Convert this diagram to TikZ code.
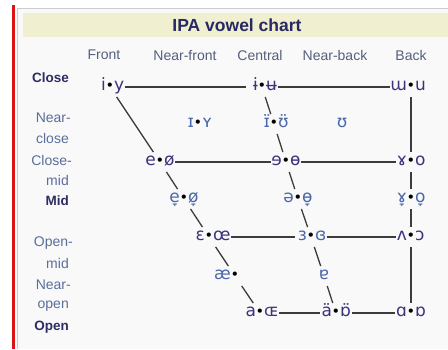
\documentclass[tikz,border=0pt]{standalone}
\usepackage{fontspec}
\setmainfont{Liberation Sans}
\newfontfamily\ipafont{DejaVu Sans}
\definecolor{panel}{RGB}{249,249,249}
\definecolor{titlebar}{RGB}{240,240,208}
\definecolor{titletext}{RGB}{40,40,100}
\definecolor{headc}{RGB}{85,95,125}
\definecolor{rowdark}{RGB}{45,45,100}
\definecolor{rowlight}{RGB}{90,110,155}
\definecolor{vdark}{RGB}{58,52,125}
\definecolor{vlight}{RGB}{75,105,170}
\definecolor{linec}{RGB}{60,60,60}
\definecolor{borderc}{RGB}{205,205,205}
\definecolor{redc}{RGB}{220,20,20}
\newlength\vwA
\newlength\vwB
\newcommand\vdot{{\fontsize{14.5}{12}\selectfont\color{black}\kern-0.2pt•\kern-0.2pt}}
\newcommand\vp[2]{\settowidth\vwA{#1}\settowidth\vwB{#2}\ifdim\vwB>\vwA\vwA=\vwB\fi\makebox[\vwA][r]{#1}\vdot\makebox[\vwA][l]{#2}}
\begin{document}
\begin{tikzpicture}[x=1pt,y=-1pt,
  v/.style={font=\ipafont\fontsize{17}{17}\selectfont, text=vdark, inner xsep=0.5pt, inner ysep=1pt, text height=12.5pt, text depth=5pt},
  vl/.style={v, text=vlight},
  colhead/.style={font=\fontsize{14}{16}\selectfont, text=headc, inner sep=0pt},
  rowb/.style={font=\fontsize{13.5}{16}\selectfont\bfseries, text=rowdark, inner sep=0pt, anchor=east},
  rowl/.style={font=\fontsize{14}{16}\selectfont, text=rowlight, inner sep=0pt, anchor=east},
  ln/.style={draw=linec, line width=1.3pt}]
\useasboundingbox (0,0) rectangle (448,349);
\fill[white] (0,0) rectangle (448,349);
\fill[panel] (17,8) rectangle (448,349);
\draw[borderc, line width=0.8pt] (17,349) -- (17,8) -- (448,8);
\fill[titlebar] (23,13) rectangle (448,37);
\fill[redc] (12,5) rectangle (14.5,349);
\node[font=\fontsize{17.5}{20}\selectfont\bfseries, text=titletext] (title) at (237,25) {IPA vowel chart};
% column headers
\node[colhead] (hfront) at (104,55) {Front};
\node[colhead] (hnfront) at (185,55) {Near-front};
\node[colhead] (hcentral) at (260,55) {Central};
\node[colhead] (hnback) at (335,55) {Near-back};
\node[colhead] (hback) at (411,55) {Back};
% row labels
\node[rowb] (rclose) at (69,78) {Close};
\node[rowl] (rnc1) at (71,118) {Near-};
\node[rowl] (rnc2) at (69,138) {close};
\node[rowl] (rcm1) at (72,160) {Close-};
\node[rowl] (rcm2) at (69,180) {mid};
\node[rowb] (rmid) at (69,201) {Mid};
\node[rowl] (rom1) at (73,243) {Open-};
\node[rowl] (rom2) at (69,263) {mid};
\node[rowl] (rno1) at (71,285) {Near-};
\node[rowl] (rno2) at (69,306) {open};
\node[rowb] (ropen) at (69,327) {Open};
% vowels
\node[v] (iy) at (110,87) {\vp{i}{y}};
\node[v] (ie) at (262,87) {\vp{ɨ}{ʉ}};
\node[v] (wu) at (411,87) {\vp{ɯ}{u}};
\node[vl] (IY) at (198,124) {\vp{ɪ}{ʏ}};
\node[vl] (IU) at (274,124) {\vp{ɪ̈}{ʊ̈}};
\node[vl] (U) at (342,124) {ʊ};
\node[v] (eo) at (160,162) {\vp{e}{ø}};
\node[v] (ee) at (286,162) {\vp{ɘ}{ɵ}};
\node[v] (go) at (411,162) {\vp{ɤ}{o}};
\node[vl] (em) at (184,199) {\vp{e̞}{ø̞}};
\node[vl] (schwa) at (298,199) {\vp{ə}{ɵ̞}};
\node[vl] (gm) at (411,199) {\vp{ɤ̞}{o̞}};
\node[v] (Eoe) at (209,237) {\vp{ɛ}{œ}};
\node[vl] (rev) at (311,237) {\vp{ɜ}{ɞ}};
\node[v] (Vc) at (411,237) {\vp{ʌ}{ɔ}};
\node[vl] (ae) at (235,276) {\vp{æ}{}};
\node[vl] (turna) at (324,276) {ɐ};
\node[v] (aOE) at (260,313) {\vp{a}{ɶ}};
\node[v] (aO) at (336,313) {\vp{ä}{ɒ̈}};
\node[v] (AQ) at (411,313) {\vp{ɑ}{ɒ}};
% connectors
\draw[ln] (iy) -- (ie) -- (wu);
\draw[ln] (eo) -- (ee) -- (go);
\draw[ln] (Eoe) -- (rev) -- (Vc);
\draw[ln] (aOE) -- (aO) -- (AQ);
\draw[ln] (iy) -- (eo) -- (em) -- (Eoe) -- (ae) -- (aOE);
\draw[ln] (ie) -- (IU) -- (ee) -- (schwa) -- (rev) -- (turna) -- (aO);
\draw[ln] (wu) -- (go) -- (gm) -- (Vc) -- (AQ);
\end{tikzpicture}
\end{document}
